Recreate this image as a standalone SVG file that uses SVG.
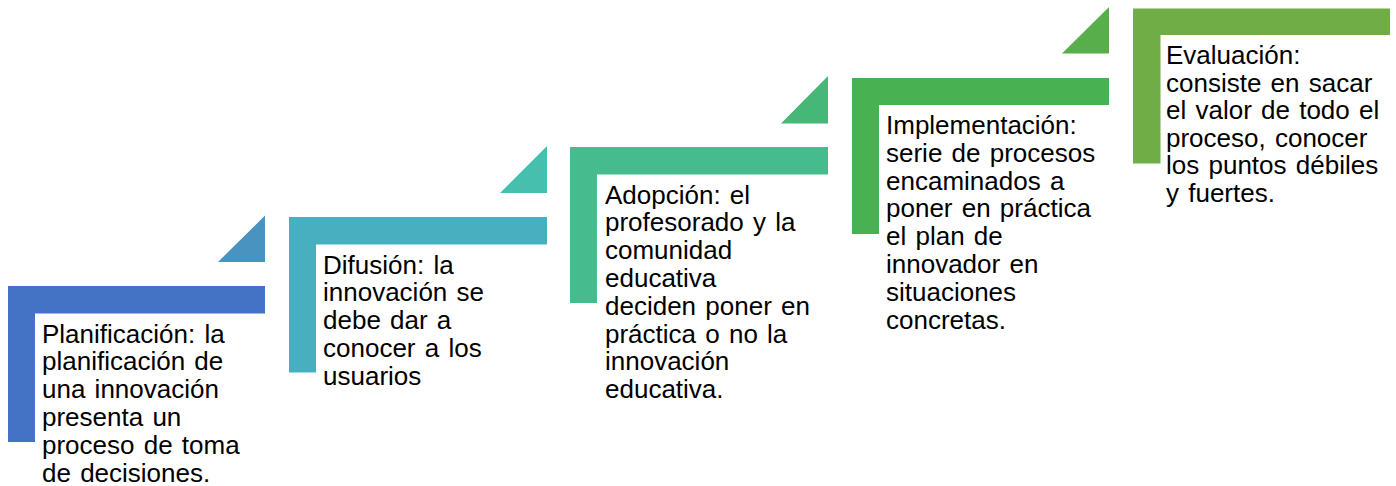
<svg xmlns="http://www.w3.org/2000/svg" width="1396" height="486" viewBox="0 0 1396 486">
  <style>
    .lbl { font-family: "Liberation Sans", Arial, sans-serif; font-size: 26px; word-spacing: 2px; fill: #000000; }
  </style>
  <rect width="1396" height="486" fill="#ffffff"/>
  <g id="step1">
    <path d="M8 286 H265 V313.5 H35 V442 H8 Z" fill="#4472C4"/>
    <path d="M218 262 H265 V215.5 Z" fill="#4993C1"/>
    <text class="lbl" x="42" y="342.5">
      <tspan x="42">Planificación: la</tspan>
      <tspan x="42" dy="27.8">planificación de</tspan>
      <tspan x="42" dy="27.8">una innovación</tspan>
      <tspan x="42" dy="27.8">presenta un</tspan>
      <tspan x="42" dy="27.8">proceso de toma</tspan>
      <tspan x="42" dy="27.8">de decisiones.</tspan>
    </text>
  </g>
  <g id="step2">
    <path d="M289 217 H547 V244.5 H316 V372.5 H289 Z" fill="#47AFC0"/>
    <path d="M500 193 H547 V146 Z" fill="#47BFAE"/>
    <text class="lbl" x="323" y="273.5">
      <tspan x="323">Difusión: la</tspan>
      <tspan x="323" dy="27.8">innovación se</tspan>
      <tspan x="323" dy="27.8">debe dar a</tspan>
      <tspan x="323" dy="27.8">conocer a los</tspan>
      <tspan x="323" dy="27.8">usuarios</tspan>
    </text>
  </g>
  <g id="step3">
    <path d="M570 147 H828 V174.5 H597 V303 H570 Z" fill="#46BB8E"/>
    <path d="M781 123.5 H828 V76 Z" fill="#45B877"/>
    <text class="lbl" x="605" y="203.5">
      <tspan x="605">Adopción: el</tspan>
      <tspan x="605" dy="27.8">profesorado y la</tspan>
      <tspan x="605" dy="27.8">comunidad</tspan>
      <tspan x="605" dy="27.8">educativa</tspan>
      <tspan x="605" dy="27.8">deciden poner en</tspan>
      <tspan x="605" dy="27.8">práctica o no la</tspan>
      <tspan x="605" dy="27.8">innovación</tspan>
      <tspan x="605" dy="27.8">educativa.</tspan>
    </text>
  </g>
  <g id="step4">
    <path d="M852 78 H1109 V105 H879 V234 H852 Z" fill="#48B252"/>
    <path d="M1062 53.5 H1109 V7 Z" fill="#58AE4A"/>
    <text class="lbl" x="886" y="134">
      <tspan x="886">Implementación:</tspan>
      <tspan x="886" dy="27.8">serie de procesos</tspan>
      <tspan x="886" dy="27.8">encaminados a</tspan>
      <tspan x="886" dy="27.8">poner en práctica</tspan>
      <tspan x="886" dy="27.8">el plan de</tspan>
      <tspan x="886" dy="27.8">innovador en</tspan>
      <tspan x="886" dy="27.8">situaciones</tspan>
      <tspan x="886" dy="27.8">concretas.</tspan>
    </text>
  </g>
  <g id="step5">
    <path d="M1133 8.5 H1390 V35 H1160.5 V163.5 H1133 Z" fill="#70AD47"/>
    <text class="lbl" x="1166" y="64">
      <tspan x="1166">Evaluación:</tspan>
      <tspan x="1166" dy="27.6">consiste en sacar</tspan>
      <tspan x="1166" dy="27.6">el valor de todo el</tspan>
      <tspan x="1166" dy="27.6">proceso, conocer</tspan>
      <tspan x="1166" dy="27.6">los puntos débiles</tspan>
      <tspan x="1166" dy="27.6">y fuertes.</tspan>
    </text>
  </g>
  <g id="connectors"></g>
</svg>
